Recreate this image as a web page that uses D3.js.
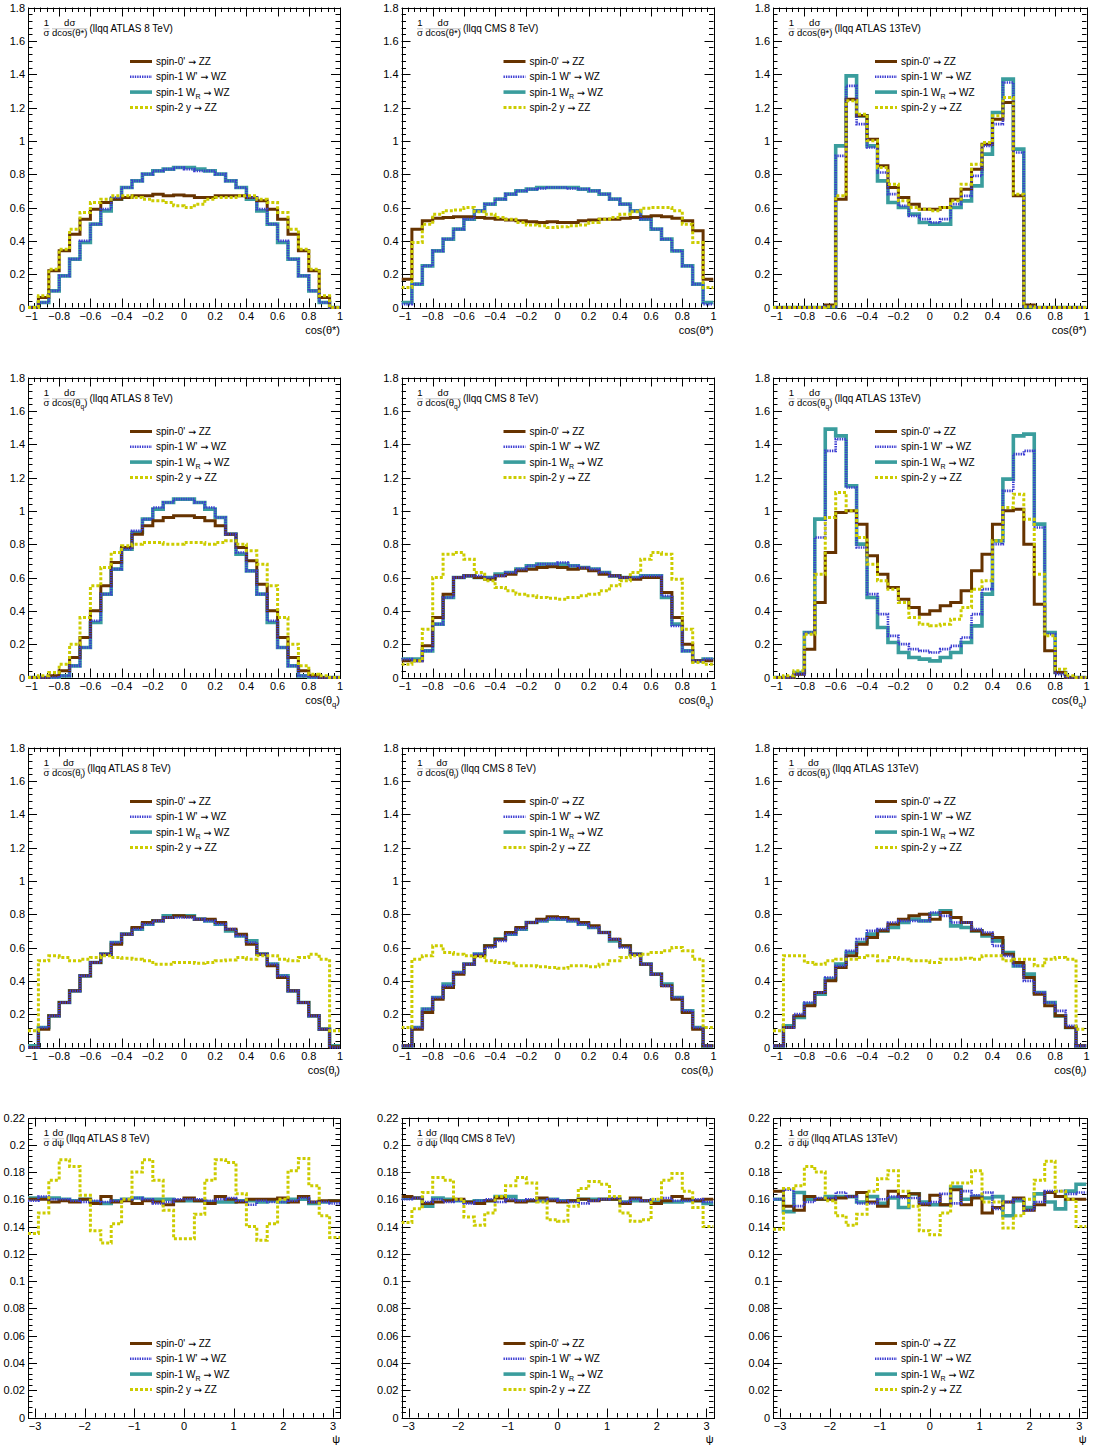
<!DOCTYPE html>
<html>
<head>
<meta charset="utf-8">
<script src="https://cdn.jsdelivr.net/npm/d3@7"></script>
<style>
  body { margin: 0; background: #fff; }
  svg { display: block; }
  text { font-family: "Liberation Sans", Arial, Helvetica, sans-serif; fill: #000; }
</style>
</head>
<body>
<svg id="chart" width="1097" height="1450"></svg>
<script>
// ---- data: 30 bins per histogram, normalised 1/sigma dsigma/dx ----

// cos(theta*)
const tsA8_spin0  = [0,0.06,0.22,0.34,0.44,0.53,0.59,0.63,0.65,0.66,0.67,0.67,0.68,0.67,0.675,0.67,0.66,0.66,0.67,0.67,0.67,0.66,0.64,0.59,0.53,0.44,0.34,0.22,0.06,0];
const tsA8_wprime = [0,0.03,0.10,0.19,0.29,0.40,0.50,0.59,0.66,0.72,0.76,0.80,0.82,0.83,0.84,0.83,0.82,0.82,0.80,0.76,0.72,0.66,0.59,0.50,0.40,0.29,0.19,0.10,0.03,0];
const tsA8_wr     = [0,0.03,0.10,0.19,0.29,0.39,0.50,0.58,0.65,0.72,0.76,0.80,0.82,0.83,0.84,0.84,0.83,0.82,0.80,0.76,0.72,0.65,0.58,0.50,0.39,0.29,0.19,0.10,0.03,0];
const tsA8_spin2  = [0,0.07,0.23,0.35,0.47,0.57,0.63,0.65,0.67,0.67,0.66,0.65,0.64,0.63,0.61,0.60,0.62,0.65,0.66,0.66,0.67,0.67,0.65,0.63,0.57,0.47,0.35,0.23,0.07,0];

const tsC8_spin0  = [0.17,0.47,0.52,0.535,0.54,0.545,0.545,0.54,0.535,0.53,0.525,0.52,0.515,0.51,0.515,0.51,0.51,0.52,0.525,0.53,0.53,0.535,0.54,0.545,0.55,0.545,0.535,0.52,0.46,0.17];
const tsC8_wprime = [0.02,0.14,0.25,0.34,0.41,0.47,0.53,0.58,0.62,0.65,0.68,0.70,0.71,0.715,0.72,0.72,0.715,0.71,0.70,0.68,0.65,0.62,0.58,0.53,0.47,0.41,0.34,0.25,0.14,0.02];
const tsC8_wr     = [0.03,0.14,0.25,0.34,0.41,0.47,0.53,0.58,0.62,0.65,0.68,0.70,0.71,0.72,0.72,0.72,0.72,0.71,0.70,0.68,0.65,0.62,0.58,0.53,0.47,0.41,0.34,0.25,0.14,0.03];
const tsC8_spin2  = [0.12,0.39,0.50,0.56,0.58,0.585,0.60,0.575,0.56,0.54,0.53,0.51,0.495,0.49,0.48,0.485,0.49,0.495,0.51,0.53,0.54,0.56,0.575,0.595,0.60,0.60,0.58,0.50,0.39,0.12];

const tsA13_spin0  = [0,0,0,0,0,0.015,0.65,1.25,1.15,1.01,0.85,0.72,0.66,0.62,0.59,0.59,0.60,0.65,0.71,0.83,0.98,1.13,1.23,0.67,0.015,0,0,0,0,0];
const tsA13_wprime = [0,0,0,0,0,0.005,0.91,1.33,1.10,0.96,0.81,0.68,0.61,0.55,0.53,0.51,0.53,0.62,0.67,0.79,0.97,1.10,1.35,0.93,0.005,0,0,0,0,0];
const tsA13_wr     = [0,0,0,0,0,0.005,0.97,1.39,1.15,0.97,0.76,0.63,0.60,0.56,0.51,0.50,0.50,0.60,0.64,0.73,0.92,1.17,1.37,0.95,0.005,0,0,0,0,0];
const tsA13_spin2  = [0,0,0,0,0,0.005,0.67,1.24,1.16,1.00,0.84,0.74,0.64,0.60,0.59,0.58,0.60,0.64,0.74,0.86,0.99,1.15,1.26,0.68,0.005,0,0,0,0,0];

// cos(theta_q)
const tqA8_spin0  = [0,0,0.01,0.04,0.12,0.24,0.40,0.55,0.69,0.78,0.86,0.91,0.94,0.96,0.97,0.97,0.96,0.94,0.91,0.86,0.78,0.70,0.56,0.40,0.24,0.12,0.04,0.01,0,0];
const tqA8_wprime = [0,0,0,0.01,0.07,0.18,0.34,0.50,0.65,0.77,0.88,0.95,1.02,1.05,1.07,1.07,1.05,1.02,0.96,0.86,0.75,0.64,0.50,0.34,0.18,0.07,0.01,0,0,0];
const tqA8_wr     = [0,0,0,0.01,0.07,0.18,0.33,0.50,0.65,0.77,0.87,0.95,1.01,1.05,1.07,1.07,1.05,1.01,0.96,0.86,0.74,0.64,0.50,0.33,0.18,0.07,0.01,0,0,0];
const tqA8_spin2  = [0,0.01,0.03,0.08,0.20,0.36,0.55,0.66,0.75,0.79,0.80,0.81,0.81,0.80,0.80,0.81,0.81,0.80,0.81,0.82,0.80,0.76,0.68,0.55,0.36,0.20,0.07,0.02,0.01,0];

const tqC8_spin0  = [0.10,0.10,0.19,0.36,0.50,0.60,0.61,0.60,0.59,0.61,0.62,0.64,0.65,0.66,0.665,0.66,0.65,0.655,0.64,0.62,0.61,0.60,0.59,0.60,0.60,0.51,0.36,0.20,0.10,0.10];
const tqC8_wprime = [0.11,0.10,0.16,0.32,0.48,0.60,0.61,0.61,0.60,0.61,0.63,0.65,0.67,0.68,0.68,0.69,0.67,0.66,0.65,0.63,0.61,0.60,0.60,0.61,0.61,0.49,0.31,0.16,0.10,0.11];
const tqC8_wr     = [0.11,0.11,0.16,0.32,0.48,0.60,0.61,0.60,0.60,0.62,0.63,0.65,0.67,0.68,0.68,0.68,0.67,0.66,0.65,0.63,0.61,0.60,0.60,0.61,0.61,0.48,0.32,0.16,0.10,0.11];
const tqC8_spin2  = [0.08,0.10,0.29,0.60,0.74,0.75,0.71,0.63,0.58,0.54,0.52,0.50,0.49,0.48,0.475,0.47,0.48,0.49,0.50,0.52,0.55,0.58,0.63,0.71,0.75,0.74,0.59,0.29,0.09,0.08];

const tqA13_spin0  = [0,0,0.02,0.17,0.45,0.75,0.99,1.00,0.92,0.73,0.62,0.54,0.47,0.42,0.38,0.40,0.43,0.45,0.52,0.64,0.74,0.92,1.00,1.01,0.80,0.44,0.16,0.03,0,0];
const tqA13_wprime = [0,0,0.02,0.27,0.84,1.36,1.43,1.14,0.78,0.50,0.38,0.25,0.20,0.17,0.16,0.15,0.17,0.19,0.24,0.38,0.53,0.80,1.12,1.34,1.36,0.90,0.26,0.02,0,0];
const tqA13_wr     = [0,0,0.03,0.27,0.95,1.49,1.45,1.15,0.80,0.48,0.30,0.21,0.15,0.12,0.11,0.10,0.12,0.15,0.21,0.31,0.50,0.82,1.19,1.45,1.46,0.92,0.27,0.03,0,0];
const tqA13_spin2  = [0,0.01,0.04,0.26,0.62,0.96,1.11,1.00,0.84,0.68,0.58,0.53,0.45,0.36,0.32,0.31,0.32,0.35,0.42,0.53,0.58,0.82,1.02,1.10,0.95,0.62,0.25,0.05,0.01,0];

// cos(theta_l)
const tlA8_spin0  = [0,0.11,0.19,0.27,0.34,0.43,0.51,0.56,0.62,0.68,0.72,0.75,0.76,0.78,0.79,0.785,0.77,0.77,0.75,0.71,0.68,0.62,0.56,0.49,0.42,0.34,0.27,0.19,0.11,0.005];
const tlA8_wprime = [0,0.12,0.19,0.27,0.34,0.43,0.51,0.56,0.63,0.68,0.71,0.74,0.76,0.78,0.78,0.78,0.77,0.76,0.74,0.71,0.67,0.63,0.56,0.50,0.43,0.34,0.27,0.19,0.11,0];
const tlA8_wr     = [0.01,0.12,0.19,0.27,0.34,0.43,0.51,0.56,0.63,0.68,0.71,0.74,0.76,0.79,0.79,0.79,0.77,0.76,0.74,0.70,0.67,0.64,0.56,0.50,0.43,0.34,0.27,0.19,0.11,0.01];
const tlA8_spin2  = [0.10,0.52,0.55,0.54,0.52,0.53,0.54,0.55,0.54,0.535,0.53,0.52,0.50,0.50,0.51,0.51,0.505,0.51,0.52,0.525,0.54,0.53,0.55,0.55,0.53,0.52,0.54,0.56,0.53,0.10];

const tlC8_spin0  = [0.01,0.11,0.21,0.29,0.36,0.44,0.50,0.55,0.61,0.65,0.69,0.72,0.75,0.77,0.785,0.78,0.77,0.75,0.73,0.69,0.65,0.61,0.56,0.50,0.44,0.37,0.29,0.21,0.11,0.01];
const tlC8_wprime = [0.01,0.12,0.23,0.30,0.37,0.45,0.50,0.56,0.60,0.64,0.68,0.71,0.75,0.76,0.775,0.77,0.76,0.74,0.72,0.69,0.65,0.60,0.56,0.50,0.44,0.37,0.30,0.22,0.12,0.01];
const tlC8_wr     = [0.01,0.12,0.23,0.30,0.38,0.45,0.50,0.56,0.61,0.65,0.68,0.71,0.75,0.76,0.77,0.77,0.76,0.74,0.72,0.69,0.64,0.61,0.56,0.50,0.44,0.38,0.30,0.22,0.12,0.01];
const tlC8_spin2  = [0.12,0.53,0.55,0.61,0.57,0.56,0.55,0.545,0.52,0.51,0.505,0.49,0.49,0.485,0.48,0.475,0.49,0.49,0.485,0.50,0.52,0.54,0.55,0.56,0.57,0.58,0.60,0.58,0.53,0.12];

const tlA13_spin0  = [0.01,0.12,0.19,0.25,0.33,0.40,0.48,0.55,0.62,0.66,0.70,0.74,0.77,0.79,0.80,0.77,0.81,0.78,0.75,0.70,0.68,0.66,0.56,0.51,0.42,0.32,0.25,0.19,0.12,0.01];
const tlA13_wprime = [0.01,0.12,0.20,0.27,0.33,0.42,0.49,0.58,0.65,0.70,0.71,0.75,0.76,0.76,0.76,0.81,0.79,0.75,0.75,0.71,0.69,0.61,0.55,0.49,0.40,0.33,0.27,0.22,0.13,0.01];
const tlA13_wr     = [0.01,0.13,0.18,0.26,0.32,0.41,0.50,0.57,0.63,0.68,0.70,0.72,0.75,0.77,0.76,0.80,0.82,0.73,0.72,0.70,0.67,0.64,0.57,0.49,0.44,0.33,0.27,0.19,0.12,0.01];
const tlA13_spin2  = [0.10,0.55,0.55,0.51,0.50,0.52,0.53,0.53,0.54,0.55,0.52,0.54,0.53,0.52,0.52,0.51,0.53,0.53,0.535,0.53,0.55,0.55,0.52,0.53,0.53,0.49,0.53,0.54,0.53,0.11];

// psi
const psA8_spin0  = [0.160,0.160,0.158,0.159,0.158,0.160,0.157,0.162,0.158,0.159,0.157,0.159,0.158,0.156,0.159,0.161,0.159,0.157,0.162,0.160,0.158,0.160,0.160,0.160,0.161,0.158,0.162,0.158,0.159,0.159];
const psA8_wprime = [0.159,0.162,0.160,0.160,0.159,0.158,0.159,0.158,0.159,0.160,0.161,0.160,0.157,0.158,0.160,0.160,0.160,0.159,0.160,0.161,0.159,0.156,0.159,0.158,0.158,0.159,0.161,0.158,0.158,0.157];
const psA8_wr     = [0.161,0.161,0.161,0.160,0.159,0.160,0.158,0.157,0.159,0.160,0.161,0.160,0.160,0.160,0.159,0.159,0.159,0.158,0.158,0.158,0.159,0.159,0.158,0.159,0.158,0.160,0.160,0.157,0.158,0.159];
const psA8_spin2  = [0.135,0.150,0.174,0.189,0.184,0.163,0.137,0.128,0.142,0.160,0.180,0.189,0.174,0.152,0.131,0.131,0.149,0.174,0.189,0.187,0.164,0.140,0.130,0.142,0.160,0.181,0.190,0.170,0.148,0.132];

const psC8_spin0  = [0.162,0.161,0.157,0.158,0.159,0.160,0.158,0.157,0.159,0.161,0.159,0.158,0.159,0.161,0.159,0.158,0.159,0.160,0.159,0.160,0.160,0.157,0.161,0.159,0.157,0.159,0.162,0.160,0.159,0.160];
const psC8_wprime = [0.160,0.161,0.158,0.160,0.158,0.159,0.157,0.159,0.160,0.158,0.160,0.159,0.160,0.159,0.160,0.159,0.158,0.157,0.159,0.160,0.161,0.158,0.160,0.159,0.160,0.161,0.159,0.159,0.160,0.158];
const psC8_wr     = [0.161,0.161,0.155,0.161,0.160,0.159,0.158,0.159,0.159,0.162,0.162,0.159,0.159,0.159,0.160,0.159,0.159,0.160,0.160,0.160,0.160,0.158,0.159,0.159,0.158,0.158,0.158,0.159,0.159,0.157];
const psC8_spin2  = [0.143,0.153,0.165,0.176,0.174,0.160,0.147,0.141,0.150,0.162,0.170,0.176,0.172,0.158,0.145,0.144,0.155,0.168,0.173,0.171,0.162,0.150,0.144,0.145,0.160,0.174,0.179,0.166,0.154,0.140];

const psA13_spin0  = [0.166,0.155,0.152,0.162,0.160,0.160,0.161,0.162,0.165,0.158,0.155,0.166,0.162,0.164,0.156,0.163,0.156,0.167,0.156,0.161,0.150,0.154,0.158,0.161,0.152,0.156,0.165,0.162,0.160,0.160];
const psA13_wprime = [0.160,0.167,0.155,0.158,0.161,0.161,0.165,0.162,0.157,0.157,0.160,0.162,0.161,0.161,0.157,0.158,0.164,0.157,0.166,0.163,0.165,0.153,0.158,0.160,0.152,0.158,0.166,0.166,0.164,0.165];
const psA13_wr     = [0.160,0.151,0.165,0.160,0.160,0.162,0.162,0.162,0.158,0.162,0.157,0.161,0.154,0.164,0.158,0.156,0.156,0.169,0.160,0.162,0.161,0.162,0.148,0.159,0.154,0.164,0.158,0.153,0.166,0.171];
const psA13_spin2  = [0.138,0.168,0.170,0.184,0.180,0.159,0.148,0.141,0.149,0.166,0.175,0.181,0.166,0.155,0.137,0.134,0.150,0.172,0.172,0.181,0.158,0.158,0.139,0.148,0.160,0.174,0.188,0.166,0.160,0.140];

// axis ticks
const cosXTicks = [-1,-0.8,-0.6,-0.4,-0.2,0,0.2,0.4,0.6,0.8,1];
const cosYTicks = [0,0.2,0.4,0.6,0.8,1,1.2,1.4,1.6,1.8];
const psiXTicks = [-3,-2,-1,0,1,2,3];
const psiYTicks = [0,0.02,0.04,0.06,0.08,0.1,0.12,0.14,0.16,0.18,0.2,0.22];

const experiments = ["llqq ATLAS 8 TeV", "llqq CMS 8 TeV", "llqq ATLAS 13TeV"];
const legendLabels = [
  [["spin-0' "], ["\u2192", "sym"], [" ZZ"]],
  [["spin-1 W' "], ["\u2192", "sym"], [" WZ"]],
  [["spin-1 W"], ["R", "sub"], [" "], ["\u2192", "sym"], [" WZ"]],
  [["spin-2 y "], ["\u2192", "sym"], [" ZZ"]]
];

// ---- styles ----
const seriesStyle = [
  { color: "#663300", width: 3,   dash: null },     // spin-0
  { color: "#3c3cd2", width: 2.6, dash: "1.4,1" },  // spin-1 W'
  { color: "#3a9d9d", width: 3.6, dash: null },     // spin-1 W_R
  { color: "#cccc00", width: 3,   dash: "3,2" }     // spin-2
];
const drawOrder = [2, 0, 1, 3];

const variables = {
  thstar: { den: [["dcos(\u03b8*)"]], title: [["cos(\u03b8*)"]] },
  thq:    { den: [["dcos(\u03b8"], ["q", "sub"], [")"]], title: [["cos(\u03b8"], ["q", "sub"], [")"]] },
  thl:    { den: [["dcos(\u03b8"], ["l", "sub"], [")"]], title: [["cos(\u03b8"], ["l", "sub"], [")"]] },
  psi:    { den: [["d\u03c8"]], title: [["\u03c8"]] }
};

const rows = [
  { v: "thstar", psi: false, sets: [[tsA8_spin0, tsA8_wprime, tsA8_wr, tsA8_spin2], [tsC8_spin0, tsC8_wprime, tsC8_wr, tsC8_spin2], [tsA13_spin0, tsA13_wprime, tsA13_wr, tsA13_spin2]] },
  { v: "thq",    psi: false, sets: [[tqA8_spin0, tqA8_wprime, tqA8_wr, tqA8_spin2], [tqC8_spin0, tqC8_wprime, tqC8_wr, tqC8_spin2], [tqA13_spin0, tqA13_wprime, tqA13_wr, tqA13_spin2]] },
  { v: "thl",    psi: false, sets: [[tlA8_spin0, tlA8_wprime, tlA8_wr, tlA8_spin2], [tlC8_spin0, tlC8_wprime, tlC8_wr, tlC8_spin2], [tlA13_spin0, tlA13_wprime, tlA13_wr, tlA13_spin2]] },
  { v: "psi",    psi: true,  sets: [[psA8_spin0, psA8_wprime, psA8_wr, psA8_spin2], [psC8_spin0, psC8_wprime, psC8_wr, psC8_spin2], [psA13_spin0, psA13_wprime, psA13_wr, psA13_spin2]] }
];

// layout
const colLeft = [28, 401.5, 773];
const colWidth = [312, 312, 313.5];
const rowTop = [7.5, 377.5, 747.5, 1117.5];
const frameH = 300;

const svg = d3.select("#chart");

function addRich(textSel, parts, size) {
  let shifted = 0;
  parts.forEach(p => {
    const ts = textSel.append("tspan").text(p[0]);
    const want = p[1] === "sub" ? size * 0.3 : 0;
    if (want !== shifted) { ts.attr("dy", want - shifted); shifted = want; }
    if (p[1] === "sub") ts.attr("font-size", size * 0.7);
    if (p[1] === "sym") ts.attr("font-family", "DejaVu Sans").attr("font-size", size * 0.95);
  });
  return textSel;
}

function minorTicks(domain, step) {
  const out = [];
  const k0 = Math.ceil(domain[0] / step - 1e-9), k1 = Math.floor(domain[1] / step + 1e-9);
  for (let k = k0; k <= k1; k++) out.push(+(k * step).toFixed(6));
  return out;
}

const fmt = v => { const s = String(+v.toFixed(3)); return v < 0 ? "\u2212" + s.slice(1) : s; };

rows.forEach((row, ri) => {
  row.sets.forEach((set, ci) => {
    const L = colLeft[ci], W = colWidth[ci], T = rowTop[ri], B = T + frameH;
    const xDom = row.psi ? [-Math.PI, Math.PI] : [-1, 1];
    const yDom = row.psi ? [0, 0.22] : [0, 1.8];
    const x = d3.scaleLinear().domain(xDom).range([L, L + W]);
    const y = d3.scaleLinear().domain(yDom).range([B, T]);
    const xMaj = row.psi ? psiXTicks : cosXTicks;
    const yMaj = row.psi ? psiYTicks : cosYTicks;
    const xMin = minorTicks(xDom, row.psi ? 0.2 : 0.04);
    const yMin = minorTicks(yDom, row.psi ? 0.004 : 0.04);

    const g = svg.append("g");

    // ticks (inside, all four sides)
    const tk = g.append("g").attr("stroke", "#000").attr("stroke-width", 1);
    const majL = 9, minL = 4.5;
    xMin.forEach(v => {
      const isMaj = xMaj.some(m => Math.abs(m - v) < 1e-6);
      const len = isMaj ? majL : minL, px = Math.round(x(v)) + 0.5;
      tk.append("line").attr("x1", px).attr("x2", px).attr("y1", B).attr("y2", B - len);
      tk.append("line").attr("x1", px).attr("x2", px).attr("y1", T).attr("y2", T + len);
    });
    yMin.forEach(v => {
      const isMaj = yMaj.some(m => Math.abs(m - v) < 1e-6);
      const len = isMaj ? majL : minL, py = Math.round(y(v)) + 0.5;
      tk.append("line").attr("y1", py).attr("y2", py).attr("x1", L).attr("x2", L + len);
      tk.append("line").attr("y1", py).attr("y2", py).attr("x1", L + W).attr("x2", L + W - len);
    });

    // frame
    g.append("rect").attr("x", Math.round(L) + 0.5).attr("y", Math.round(T) + 0.5)
      .attr("width", Math.round(W)).attr("height", frameH)
      .attr("fill", "none").attr("stroke", "#000").attr("stroke-width", 1);

    // tick labels (the corner label is nudged right so it clears the y "0")
    g.append("g").selectAll("text").data(xMaj).join("text")
      .attr("x", d => x(d) + (Math.abs(x(d) - L) < 1 ? 3.5 : 0)).attr("y", B + 12)
      .attr("text-anchor", "middle").attr("font-size", 11)
      .text(d => fmt(d));
    g.append("g").selectAll("text").data(yMaj).join("text")
      .attr("x", L - 3).attr("y", d => y(d) + 4)
      .attr("text-anchor", "end").attr("font-size", 11)
      .text(d => fmt(d));

    // axis title
    addRich(g.append("text")
      .attr("x", L + W).attr("y", row.psi ? B + 25 : B + 26)
      .attr("text-anchor", "end").attr("font-size", 11), variables[row.v].title, 11);

    // histograms
    const clipId = `clip-${ri}-${ci}`;
    svg.append("clipPath").attr("id", clipId).append("rect")
      .attr("x", L).attr("y", T).attr("width", W).attr("height", frameH + 1.5);
    const edges = d3.range(31).map(i => xDom[0] + i * (xDom[1] - xDom[0]) / 30);
    const line = d3.line().curve(d3.curveStepAfter);
    const hg = g.append("g").attr("clip-path", `url(#${clipId})`);
    drawOrder.forEach(si => {
      const vals = set[si];
      const pts = vals.map((v, i) => [x(edges[i]), y(v)]);
      pts.push([x(edges[30]), y(vals[29])]);
      const st = seriesStyle[si];
      hg.append("path").attr("d", line(pts))
        .attr("fill", "none").attr("stroke", st.color)
        .attr("stroke-width", st.width).attr("stroke-dasharray", st.dash)
        .attr("stroke-linejoin", "miter");
    });

    // panel label: 1/sigma dsigma/dx (experiment)
    const fs = 9.5;
    const lab = g.append("g");
    lab.append("text").attr("x", L + 18.5).attr("y", T + 18.7).attr("text-anchor", "middle").attr("font-size", fs).text("1");
    lab.append("text").attr("x", L + 18.5).attr("y", T + 28.7).attr("text-anchor", "middle").attr("font-size", fs).text("\u03c3");
    const den = addRich(lab.append("text").attr("x", L + 24).attr("y", T + 28.7).attr("font-size", fs), variables[row.v].den, fs);
    const dw = den.node().getComputedTextLength();
    lab.append("text").attr("x", L + 24 + dw / 2).attr("y", T + 18.7).attr("text-anchor", "middle").attr("font-size", fs).text("d\u03c3");
    lab.append("line").attr("x1", L + 15.5).attr("x2", L + 21.5).attr("y1", T + 21.3).attr("y2", T + 21.3).attr("stroke", "#999").attr("stroke-width", 0.6);
    lab.append("line").attr("x1", L + 24).attr("x2", L + 24 + dw).attr("y1", T + 21.3).attr("y2", T + 21.3).attr("stroke", "#999").attr("stroke-width", 0.6);
    lab.append("text").attr("x", L + 24 + dw + 2).attr("y", T + 24.5).attr("font-size", 10)
      .text(`(${experiments[ci]})`);

    // legend
    const ly0 = row.psi ? T + 226 : T + 54;
    const leg = g.append("g");
    legendLabels.forEach((parts, si) => {
      const yy = ly0 + si * 15.3;
      const st = seriesStyle[si];
      leg.append("line").attr("x1", L + 102).attr("x2", L + 124).attr("y1", yy).attr("y2", yy)
        .attr("stroke", st.color).attr("stroke-width", st.width).attr("stroke-dasharray", st.dash);
      addRich(leg.append("text").attr("x", L + 128).attr("y", yy + 3.5).attr("font-size", 10), parts, 10);
    });
  });
});
</script>
</body>
</html>
